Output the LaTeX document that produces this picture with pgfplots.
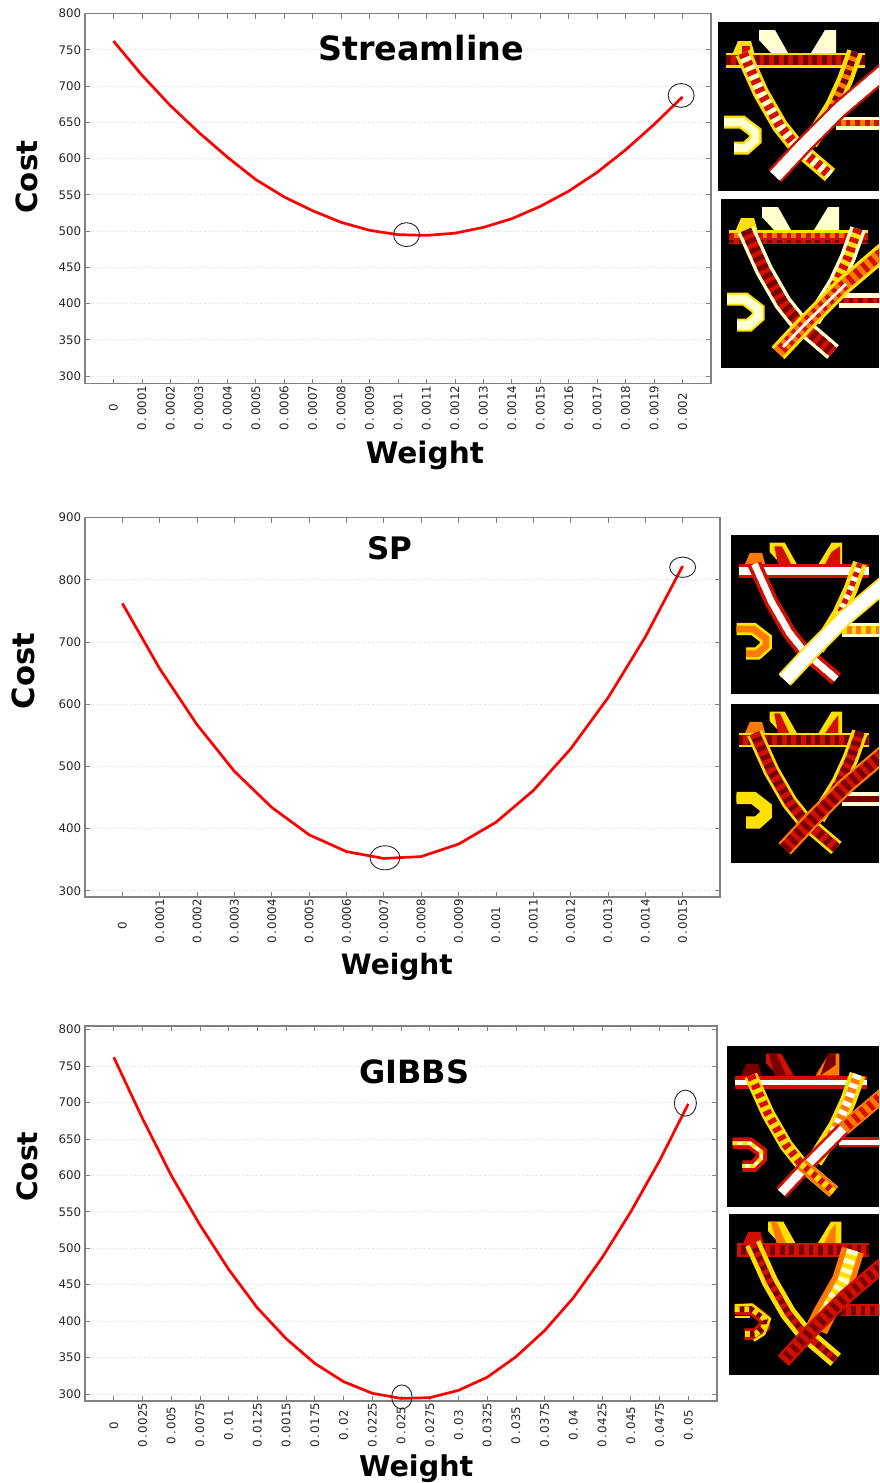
\documentclass[border=0pt]{standalone}
\usepackage{fontspec}
\setmainfont{DejaVu Sans}
\usepackage{pgfplots}
\pgfplotsset{compat=1.18}
\definecolor{hA}{HTML}{7A0000}
\definecolor{hB}{HTML}{D01000}
\definecolor{hC}{HTML}{FF7A00}
\definecolor{hD}{HTML}{FFE000}
\definecolor{hE}{HTML}{FFFFD0}
\newcommand\tl[1]{0\kern.9pt.\kern.9pt#1}
\def\Pbar{(8,38) -- (147,38)}
\def\Pleft{(25,31) -- (43,71) -- (62,104) -- (78,124) -- (112,153)}
\def\Pmain{(57,154) -- (85,124) -- (122,87) -- (168,48)}
\def\Pright{(137,30) -- (127,58) -- (115,84) -- (92,121)}
\def\Pbranch{(118,101) -- (168,101)}
\def\Pc{(6,100) -- (24,100) -- (37,110) -- (37,118) -- (28,126) -- (16,126)}
\def\Hl{(41,8) -- (57,8) -- (70,31) -- (53,31) -- (41,18) -- cycle}
\def\Hr{(107,8) -- (118,8) -- (118,31) -- (93,31) -- cycle}
\def\Bp{(20,19) -- (33,19) -- (37,33) -- (14,33) -- cycle}
% path, outer width, outer colour, inner width, inner colour, dash colour
\newcommand\seg[6]{%
  \draw[line width=#2*\ps pt,#3,line join=miter] #1;
  \draw[line width=#4*\ps pt,#5,line join=miter] #1;
  \draw[line width=#4*\ps pt,#6,line join=miter,dash pattern=on 2.4pt off 2.4pt] #1;}
\newcommand\heat[4]{%
  \begin{scope}[shift={(#1,#2)}]
  \pgfmathsetmacro\ss{#3/169}
  \pgfmathsetmacro\ps{0.5*\ss}
  \pgfmathsetmacro\wd{(879-#1)/\ss}
  \begin{scope}[scale=\ss]
  \clip (0,0) rectangle (\wd,169);
  \fill[black] (0,0) rectangle (\wd,169);
  #4
  \end{scope}
  \end{scope}}
\pgfplotsset{chart/.style={
  anchor=north west, scale only axis, clip=false,
  /pgf/number format/assume math mode=true,
  axis line style={gray,line width=.6pt},
  tick style={gray,line width=.35pt},
  major tick length=2.5pt,
  ymajorgrids, major grid style={densely dotted,gray!28,line width=.3pt},
  tick label style={font=\fontsize{5.9}{7}\selectfont,text=black!85},
  xtick={0,...,20},
  yticklabel style={xshift=1.6pt},
  label style={font=\fontsize{14.6}{16}\bfseries\selectfont},
  title style={font=\fontsize{16}{18}\bfseries\selectfont,anchor=center},
}}
\begin{document}
\begin{tikzpicture}[x=0.5pt,y=-0.5pt]
\path[use as bounding box] (0,0) rectangle (879,1483);
% --- chart 1
\begin{axis}[chart, at={(42.5pt,-6.75pt)}, width=313pt, height=185pt,
  xmin=-1, xmax=21, ymin=289.7, ymax=800, ytick={300,350,...,800},
  xticklabels={\kern9.5pt 0,\tl{0001},\tl{0002},\tl{0003},\tl{0004},\tl{0005},\tl{0006},\tl{0007},\tl{0008},\tl{0009},\tl{001},\tl{0011},\tl{0012},\tl{0013},\tl{0014},\tl{0015},\tl{0016},\tl{0017},\tl{0018},\tl{0019},\tl{002}},
  xticklabel style={yshift=-27pt,rotate=90,anchor=west},
  title={Streamline}, title style={at={(.537,.874)},font=\fontsize{16.7}{18}\bfseries\selectfont},
  xlabel={Weight}, xlabel style={at={(.543,-.195)},anchor=center,font=\fontsize{14.8}{16}\bfseries\selectfont},
  ylabel={Cost}, ylabel style={at={(-.0927,.558)},anchor=center,rotate=0},
]
\addplot[red,line width=1.35pt] coordinates {(0,762)(1,715)(2,673)(3,636)(4,602)(5,571)(6,547)(7,528)(8,512)(9,501)(10,495)(11,494)(12,497)(13,505)(14,517)(15,534)(16,555)(17,581)(18,612)(19,647)(20,685)};
\addplot[only marks,mark=o,mark size=6.5pt,mark options={draw=black!85,line width=.45pt,yscale=.92}] coordinates {(10.3,495)};
\addplot[only marks,mark=o,mark size=6.5pt,mark options={draw=black!85,line width=.45pt,yscale=.92}] coordinates {(19.95,687)};
\end{axis}
% --- chart 2
\begin{axis}[chart, at={(42.5pt,-258.75pt)}, width=317.5pt, height=189.75pt,
  xmin=-1, xmax=16, ymin=290, ymax=900, ytick={300,400,...,900}, xtick={0,...,15},
  xticklabels={\kern7pt 0,\tl{0001},\tl{0002},\tl{0003},\tl{0004},\tl{0005},\tl{0006},\tl{0007},\tl{0008},\tl{0009},\tl{001},\tl{0011},\tl{0012},\tl{0013},\tl{0014},\tl{0015}},
  xticklabel style={yshift=-27pt,rotate=90,anchor=west},
  title={SP}, title style={at={(.480,.888)},font=\fontsize{15.5}{18}\bfseries\selectfont},
  xlabel={Weight}, xlabel style={at={(.491,-.184)},anchor=center,font=\fontsize{14}{16}\bfseries\selectfont},
  ylabel={Cost}, ylabel style={at={(-.0976,.595)},anchor=center,rotate=0,font=\fontsize{15.3}{16}\bfseries\selectfont},
]
\addplot[red,line width=1.35pt] coordinates {(0,762)(1,657)(2,567)(3,492)(4,434)(5,390)(6,363)(7,352)(8,355)(9,375)(10,410)(11,461)(12,528)(13,610)(14,708)(15,822)};
\addplot[only marks,mark=o,mark size=7.5pt,mark options={draw=black!85,line width=.45pt,yscale=.8}] coordinates {(7.03,353)};
\addplot[only marks,mark=o,mark size=6.5pt,mark options={draw=black!85,line width=.45pt,yscale=.78}] coordinates {(15,820)};
\end{axis}
% --- chart 3
\begin{axis}[chart, at={(42.5pt,-513pt)}, width=316pt, height=187.5pt,
  xmin=-1, xmax=21, ymin=290.4, ymax=804.8, ytick={300,350,...,800},
  xticklabels={0,\tl{0025},\tl{005},\tl{0075},\tl{01},\tl{0125},\tl{0015},\tl{0175},\tl{02},\tl{0225},\tl{025},\tl{0275},\tl{03},\tl{0325},\tl{035},\tl{0375},\tl{04},\tl{0425},\tl{045},\tl{0475},\tl{05}},
  xticklabel style={yshift=-12.2pt,rotate=90,anchor=center},
  title={GIBBS}, title style={at={(.521,.846)}},
  xlabel={Weight}, xlabel style={at={(.524,-.181)},anchor=center,font=\fontsize{14.3}{16}\bfseries\selectfont},
  ylabel={Cost}, ylabel style={at={(-.0918,.625)},anchor=center,rotate=0,font=\fontsize{14}{16}\bfseries\selectfont},
]
\addplot[red,line width=1.35pt] coordinates {(0,762)(1,678)(2,600)(3,532)(4,471)(5,418)(6,376)(7,342)(8,317)(9,301)(10,294)(11,295)(12,305)(13,323)(14,351)(15,387)(16,432)(17,487)(18,550)(19,620)(20,698)};
\addplot[only marks,mark=o,mark size=6pt,mark options={draw=black!85,line width=.45pt,xscale=.85}] coordinates {(10.03,296)};
\addplot[only marks,mark=o,mark size=6.5pt,mark options={draw=black!85,line width=.45pt,xscale=.85}] coordinates {(19.9,699)};
\end{axis}
% --- panels
\heat{718}{22}{169}{%
  \fill[hE] \Hl; \fill[hE] \Hr; \fill[hD] \Bp; \fill[hB] (24,24) rectangle (32,33);
  \seg{\Pbar}{15}{hD}{10}{hB}{hA}
  \seg{\Pright}{16}{hD}{7}{hC}{hA}
  \seg{\Pleft}{16}{hD}{10}{hE}{hB}
  \seg{\Pbranch}{13}{hE}{6}{hC}{hB}
  \seg{\Pmain}{18}{hB}{13}{white}{white}
  \seg{\Pc}{13}{hD}{8}{hE}{hE}
}
\heat{721}{199}{169}{%
  \fill[hE] \Hl; \fill[hE] \Hr; \fill[hD] \Bp;
  \seg{\Pbar}{14}{hD}{9}{hC}{hB}
  \seg{(8,42) -- (147,42)}{6}{hB}{3}{hB}{hA}
  \seg{\Pright}{16}{hE}{9}{hD}{hB}
  \seg{\Pleft}{18}{hE}{11}{hB}{hA}
  \seg{\Pbranch}{15}{hE}{5}{hB}{hA}
  \seg{\Pmain}{18}{hD}{11}{hB}{hC}
  \draw[white,line width=1.4pt] (62,148) -- (85,124) -- (125,85);
  \seg{\Pc}{13}{hD}{9}{hE}{hE}
}
\heat{731}{535}{159}{%
  \fill[hD] \Hl; \fill[hD] \Hr; \fill[hC] \Bp;
  \fill[hB] (46,12) -- (54,12) -- (64,31) -- (50,31) -- cycle;
  \fill[hB] (107,18) -- (116,12) -- (116,31) -- (100,31) -- cycle;
  \seg{\Pbar}{15}{hB}{8}{white}{white}
  \seg{\Pright}{15}{hD}{6}{white}{hB}
  \seg{\Pleft}{15}{hB}{7}{white}{white}
  \seg{\Pbranch}{15}{hE}{9}{hC}{hD}
  \seg{\Pmain}{18}{hD}{14}{white}{white}
  \seg{\Pc}{13}{hD}{7}{hC}{hC}
}
\heat{731}{704}{159}{%
  \fill[hD] \Hl; \fill[hD] \Hr; \fill[hC] \Bp;
  \fill[hB] (46,10) -- (52,10) -- (62,31) -- (50,31) -- cycle;
  \fill[hB] (109,18) -- (114,12) -- (114,31) -- (100,31) -- cycle;
  \seg{\Pbar}{15}{hD}{11}{hB}{hA}
  \seg{\Pright}{17}{hD}{10}{hB}{hA}
  \seg{\Pleft}{17}{hD}{11}{hA}{hB}
  \seg{\Pbranch}{15}{hE}{7}{hA}{hA}
  \seg{\Pmain}{18}{hC}{13}{hB}{hA}
  \seg{\Pc}{13}{hD}{9}{hD}{hD}
}
\heat{727}{1046}{161}{%
  \fill[hB] \Hl; \fill[hC] \Hr; \fill[hA] \Bp;
  \fill[hA] (44,8) -- (52,8) -- (62,31) -- (50,31) -- cycle;
  \fill[hA] (106,8) -- (114,8) -- (114,20) -- (98,31) -- cycle;
  \seg{\Pbar}{14}{hB}{5}{white}{white}
  \seg{\Pright}{17}{hD}{9}{hC}{white}
  \seg{\Pleft}{14}{hD}{9}{hD}{hB}
  \seg{(122,87) -- (168,48)}{15}{hC}{11}{hB}{hC}
  \seg{\Pbranch}{11}{hB}{5}{white}{white}
  \seg{(57,154) -- (85,124) -- (122,87)}{15}{hB}{9}{white}{white}
  \seg{(78,124) -- (112,153)}{13}{hC}{7}{hB}{hD}
  \seg{(6,102) -- (24,102) -- (36,111) -- (36,118) -- (28,126) -- (16,126)}{12}{hB}{4}{hE}{hD}
}
\heat{729}{1214}{161}{%
  \fill[hD] \Hl; \fill[hD] \Hr; \fill[hB] \Bp;
  \fill[hC] (44,8) -- (50,8) -- (60,31) -- (50,31) -- cycle;
  \fill[hC] (106,18) -- (112,10) -- (112,31) -- (100,31) -- cycle;
  \seg{\Pbar}{15}{hB}{10}{hA}{hB}
  \seg{(130,38) -- (120,70) -- (100,105) -- (92,121)}{24}{hC}{12}{hD}{hE}
  \seg{\Pleft}{17}{hD}{7}{hA}{hB}
  \seg{\Pbranch}{13}{hB}{9}{hB}{hA}
  \seg{\Pmain}{16}{hB}{11}{hA}{hB}
  \seg{\Pc}{12}{hB}{6}{hA}{hD}
  \draw[hD,line width=1.2pt] (6,96) -- (24,95) -- (43,110) -- (37,126) -- (26,133);
  \draw[hD,line width=1.2pt] (6,108) -- (22,108);
}
\end{tikzpicture}
\end{document}
